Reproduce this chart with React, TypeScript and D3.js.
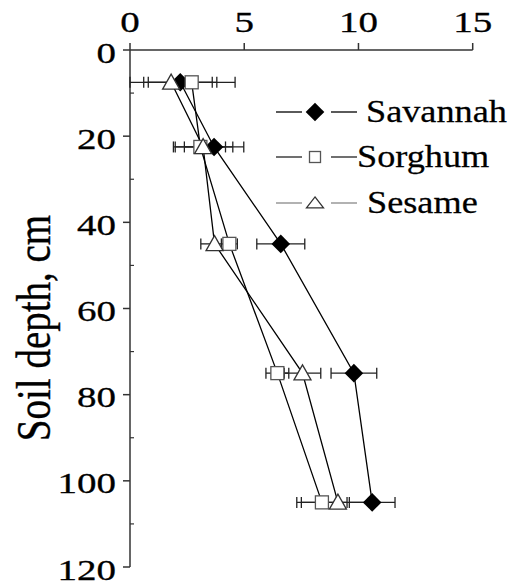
import React from "react";
import * as d3 from "d3";

const depths = [7.5, 22.5, 45, 75, 105];
const savannah = [2.2, 3.68, 6.6, 9.8, 10.6];
const savannahErr = [1.6, 1.3, 1.05, 1.0, 1.0];
const sorghum = [2.7, 3.08, 4.35, 6.45, 8.4];
const sorghumErr = [1.9, 1.1, 0.35, 0.5, 1.1];
const sesame = [1.8, 3.2, 3.7, 7.55, 9.1];
const sesameErr = [1.8, 1.3, 0.6, 0.8, 1.6];
const xTicks = [0, 5, 10, 15];
const yTicks = [0, 20, 40, 60, 80, 100, 120];
const yMinor = [10, 30, 50, 70, 90, 110];
const seriesNames = ["Savannah", "Sorghum", "Sesame"];

const W = 508, H = 582;
const x = d3.scaleLinear().domain([0, 15]).range([130, 472.7]);
const y = d3.scaleLinear().domain([0, 120]).range([50, 567]);

const FONT = "Liberation Serif, DejaVu Serif, Times New Roman, serif";
const tstyle = { fontFamily: FONT } as React.CSSProperties;

function Marker({ kind, cx, cy, legend }: { kind: string; cx: number; cy: number; legend?: boolean }) {
  if (kind === "Savannah") {
    const r = 9.3;
    return <path d={`M${cx},${cy - r}L${cx + r},${cy}L${cx},${cy + r}L${cx - r},${cy}Z`} fill="#000" />;
  }
  if (kind === "Sorghum") {
    const s = legend ? 5.5 : 6.5;
    return <rect x={cx - s} y={cy - s} width={2 * s} height={2 * s} fill="#fff" stroke="#555" strokeWidth={1.3} />;
  }
  const w = 8.5, h = legend ? 11 : 15;
  return <path d={`M${cx},${cy - h * 0.55}L${cx + w},${cy + h * 0.45}L${cx - w},${cy + h * 0.45}Z`} fill="#fff" stroke="#333" strokeWidth={1.3} />;
}

export default function App() {
  const series = [
    { name: "Savannah", vals: savannah, errs: savannahErr, legendColor: "#000" },
    { name: "Sorghum", vals: sorghum, errs: sorghumErr, legendColor: "#222" },
    { name: "Sesame", vals: sesame, errs: sesameErr, legendColor: "#888" },
  ];
  const line = d3.line<[number, number]>().x((d) => x(d[0])).y((d) => y(d[1]));
  const legendY = [112, 157, 203];
  const legendTextX = [366, 357, 367];
  return (
    <svg width={W} height={H} style={{ position: "absolute", left: 0, top: 0, background: "#fff" }}>
      {/* axes */}
      <line x1={x(0)} x2={x(15)} y1={y(0)} y2={y(0)} stroke="#333" strokeWidth={1.5} />
      <line x1={x(0)} x2={x(0)} y1={y(0)} y2={y(120)} stroke="#333" strokeWidth={1.5} />
      {xTicks.map((t) => (
        <g key={"x" + t}>
          <line x1={x(t)} x2={x(t)} y1={y(0)} y2={y(0) - 7} stroke="#333" strokeWidth={1.5} />
          <text x={0} y={0} style={tstyle} transform={`translate(${x(t)},32) scale(1.3,1)`} textAnchor="middle" fontSize={30} fill="#000" stroke="#000" strokeWidth={0.3}>
            {t}
          </text>
        </g>
      ))}
      {yTicks.map((t) => (
        <g key={"y" + t}>
          <line x1={x(0) - 7} x2={x(0)} y1={y(t)} y2={y(t)} stroke="#333" strokeWidth={1.5} />
          <text x={0} y={0} dy="0.42em" style={tstyle} transform={`translate(116,${y(t)}) scale(1.3,1)`} textAnchor="end" fontSize={30} fill="#000" stroke="#000" strokeWidth={0.3}>
            {t}
          </text>
        </g>
      ))}
      {yMinor.map((t) => (
        <line key={"m" + t} x1={x(0)} x2={x(0) + 4} y1={y(t)} y2={y(t)} stroke="#333" strokeWidth={1.2} />
      ))}
      <text style={tstyle} transform={`translate(50,328) rotate(-90) scale(1,1.27)`} textAnchor="middle" fontSize={39} fill="#000" stroke="#000" strokeWidth={0.3}>
        Soil depth, cm
      </text>

      {/* error bars */}
      {series.map((s) => (
        <g key={"e" + s.name}>
          {s.vals.map((v, i) => {
            const lo = Math.max(0, v - s.errs[i]);
            const hi = v + s.errs[i];
            const cy = y(depths[i]);
            return (
              <g key={i} stroke="#222" strokeWidth={1.3}>
                <line x1={x(lo)} x2={x(hi)} y1={cy} y2={cy} />
                <line x1={x(lo)} x2={x(lo)} y1={cy - 5.5} y2={cy + 5.5} />
                <line x1={x(hi)} x2={x(hi)} y1={cy - 5.5} y2={cy + 5.5} />
              </g>
            );
          })}
        </g>
      ))}
      {/* lines */}
      {series.map((s) => (
        <path key={"l" + s.name} d={line(s.vals.map((v, i) => [v, depths[i]] as [number, number])) || ""} fill="none" stroke="#000" strokeWidth={1.3} />
      ))}
      {/* markers */}
      {series.map((s) => (
        <g key={"p" + s.name}>
          {s.vals.map((v, i) => (
            <Marker key={i} kind={s.name} cx={x(v)} cy={y(depths[i])} />
          ))}
        </g>
      ))}
      {/* legend */}
      {series.map((s, i) => (
        <g key={"lg" + s.name}>
          <line x1={276} x2={302} y1={legendY[i]} y2={legendY[i]} stroke={s.legendColor} strokeWidth={1.3} />
          <line x1={331} x2={357} y1={legendY[i]} y2={legendY[i]} stroke={s.legendColor} strokeWidth={1.3} />
          <Marker kind={s.name} cx={315} cy={legendY[i]} legend />
          <text x={0} y={0} dy="0.33em" style={tstyle} transform={`translate(${legendTextX[i]},${legendY[i]}) scale(1.17,1)`} fontSize={31} fill="#000" stroke="#000" strokeWidth={0.25}>
            {seriesNames[i]}
          </text>
        </g>
      ))}
    </svg>
  );
}
